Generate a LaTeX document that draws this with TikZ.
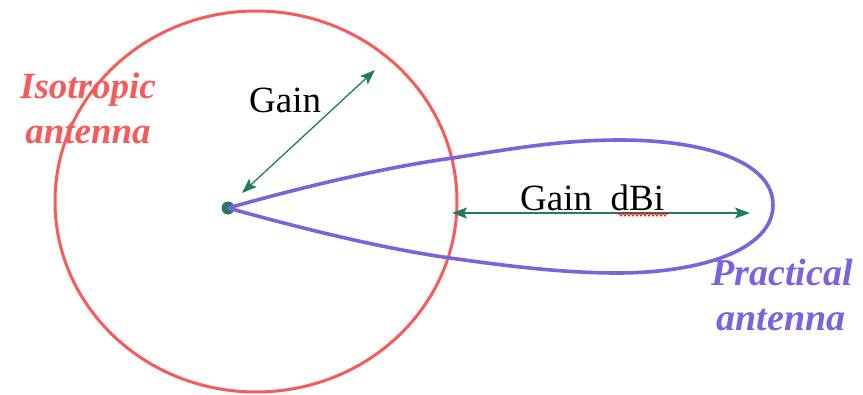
\documentclass[tikz,border=0pt]{standalone}
\usepackage{fontspec}
\setmainfont{Liberation Serif}
\usetikzlibrary{arrows.meta,decorations.pathmorphing}
\definecolor{isored}{HTML}{F65A5A}
\definecolor{lobeblue}{HTML}{7B63DD}
\definecolor{gaingreen}{HTML}{1F7D5E}
\tikzset{
  isolabel/.style={text=isored,font=\fontsize{37}{40}\selectfont\bfseries\itshape,inner sep=0pt,anchor=base},
  praclabel/.style={text=lobeblue,font=\fontsize{38}{40}\selectfont\bfseries\itshape,inner sep=0pt,anchor=base},
  gainlabel/.style={text=black,font=\fontsize{37}{40}\selectfont,inner sep=0pt,anchor=base west},
  gainarrow/.style={draw=gaingreen,line width=1.3pt,{Stealth[length=15pt,width=11pt,inset=3pt]}-{Stealth[length=15pt,width=11pt,inset=3pt]}},
}
\begin{document}
\begin{tikzpicture}[x=1pt,y=-1pt]
\useasboundingbox (0,0) rectangle (863,394);
% isotropic circle
\draw[isored,line width=3pt] (256,201.5) ellipse [x radius=201,y radius=190.5];
% feed point
\node[circle,fill=gaingreen,minimum size=13pt,inner sep=0pt] (feed) at (228,208) {};
% practical lobe
\draw[lobeblue,line width=3.6pt,line join=round]
 (feed.center) .. controls (320,182) and (400,165) .. (453,158)
 .. controls (510,149) and (560,140) .. (620,140)
 .. controls (700,140) and (773,160) .. (773,205)
 .. controls (773,250) and (700,273) .. (617,273)
 .. controls (560,273) and (500,265) .. (450,258)
 .. controls (380,248) and (300,228) .. (feed.center);
% gain arrows
\coordinate (g1) at (242,193);
\coordinate (g2) at (375,70);
\draw[gainarrow] (g1) -- (g2);
\coordinate (d1) at (452,213);
\coordinate (d2) at (750,213);
\draw[gainarrow] (d1) -- (d2);
% labels
\node[gainlabel] (gain) at (249,112) {Gain};
\node[gainlabel] (gaindbi) at (520,210) {Gain\ \ dBi};
\coordinate (s1) at (618,214.5);
\coordinate (s2) at (668,214.5);
\draw[red,line width=0.8pt,decorate,decoration={zigzag,amplitude=1.6pt,segment length=4pt}] (s1) -- (s2);
\node[isolabel] (iso1) at (88,98) {Isotropic};
\node[isolabel] (iso2) at (88,143) {antenna};
\node[praclabel] (prac1) at (782,285) {Practical};
\node[praclabel] (prac2) at (781,330) {antenna};
\end{tikzpicture}
\end{document}
